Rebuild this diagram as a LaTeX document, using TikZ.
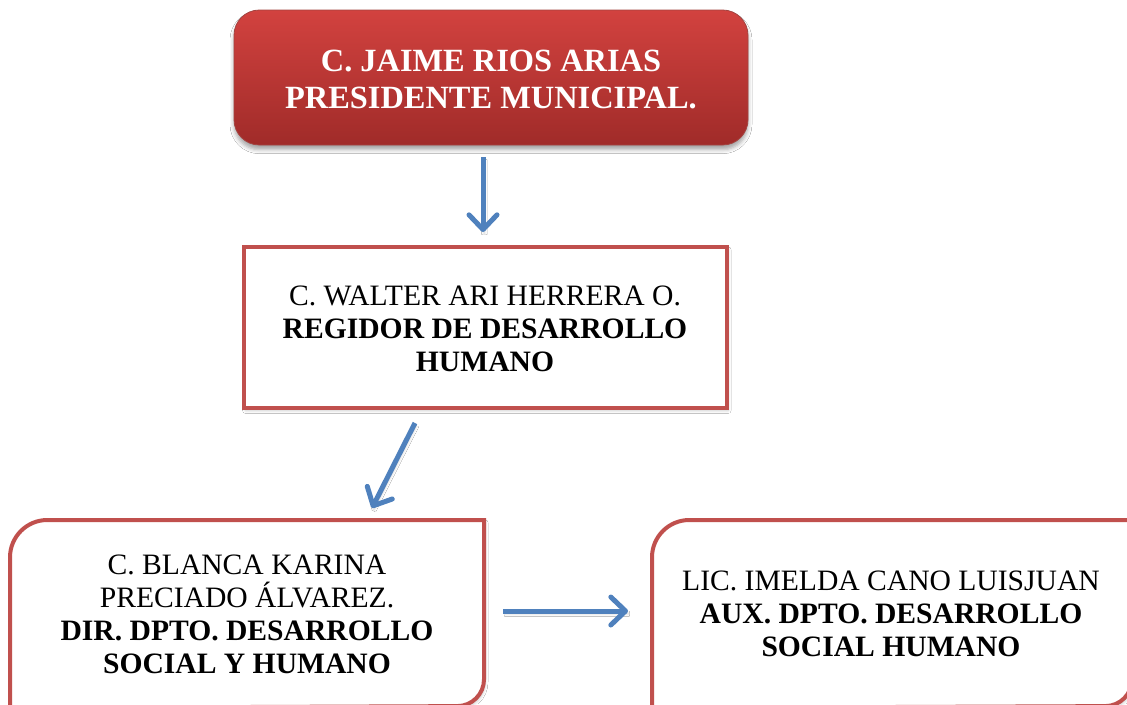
\documentclass[tikz,border=0pt]{standalone}
\usepackage{fontspec}
\setmainfont{Liberation Serif}
\usetikzlibrary{arrows.meta,shadows,shadows.blur}
\definecolor{boxred}{HTML}{C0504D}
\definecolor{toptop}{HTML}{D2423F}
\definecolor{topbot}{HTML}{A02B29}
\definecolor{arrblue}{HTML}{4F81BD}
\tikzset{
  bodytext/.style={align=center, font=\fontsize{22.2}{24.75}\selectfont, text=black, inner sep=0pt},
  toptext/.style={align=center, font=\fontsize{24.3}{27.75}\selectfont\bfseries, text=white, inner sep=0pt},
  frame/.style={draw=boxred, line width=3pt, fill=white},
  conn/.style={draw=arrblue, line width=3.75pt, -{Straight Barb[length=11pt,width=21pt,round]}, blur shadow={shadow xshift=1pt, shadow yshift=-2pt, shadow opacity=20, shadow blur steps=4, shadow blur radius=2pt}}
}
\begin{document}
\begin{tikzpicture}[x=0.75pt,y=-0.75pt]
\useasboundingbox (0,0) rectangle (1127,704);
\fill[white] (0,0) rectangle (1127,704);
\begin{scope}
\clip (0,0) rectangle (1127,704);
% top box
\path[rounded corners=19pt, top color=toptop, bottom color=topbot, draw=boxred!85!black, line width=0.6pt,
  blur shadow={shadow xshift=0pt, shadow yshift=-3.5pt, shadow opacity=35, shadow blur radius=3pt}]
  (234,10) rectangle (748,145);
\node[toptext] (top) at (491,79) {C. JAIME RIOS ARIAS\\PRESIDENTE MUNICIPAL.};
% middle box
\path[frame, blur shadow={shadow xshift=1pt, shadow yshift=-2pt, shadow opacity=20, shadow blur radius=2pt}] (244,247) rectangle (727,408);
\node[bodytext] (mid) at (485,329) {C. WALTER ARI HERRERA O.\\\textbf{REGIDOR DE DESARROLLO}\\\textbf{HUMANO}};
% bottom left box
\path[frame, blur shadow={shadow xshift=1pt, shadow yshift=-2pt, shadow opacity=20, shadow blur radius=2pt}]
  (10,708) [rounded corners=28pt] -- (10,520) [sharp corners] -- (484,520) [rounded corners=20pt] -- (484,706) [sharp corners] -- cycle;
\node[bodytext] (left) at (247,614) {C. BLANCA KARINA\\PRECIADO ÁLVAREZ.\\\textbf{DIR. DPTO. DESARROLLO}\\\textbf{SOCIAL Y HUMANO}};
% bottom right box
\path[frame, blur shadow={shadow xshift=1pt, shadow yshift=-2pt, shadow opacity=20, shadow blur radius=2pt}]
  (652,708) [rounded corners=28pt] -- (652,520) [sharp corners] -- (1132,520) [rounded corners=20pt] -- (1132,706) [sharp corners] -- cycle;
\node[bodytext] (right) at (891,614) {LIC. IMELDA CANO LUISJUAN\\\textbf{AUX. DPTO. DESARROLLO}\\\textbf{SOCIAL HUMANO}};
\end{scope}
% connectors
\coordinate (a1s) at (483,157);
\coordinate (a1e) at (483,232);
\coordinate (a2s) at (415,423);
\coordinate (a2e) at (372,508);
\coordinate (a3s) at (503,611);
\coordinate (a3e) at (628,611);
\draw[conn] (a1s) -- (a1e);
\draw[conn] (a2s) -- (a2e);
\draw[conn] (a3s) -- (a3e);
\end{tikzpicture}
\end{document}
